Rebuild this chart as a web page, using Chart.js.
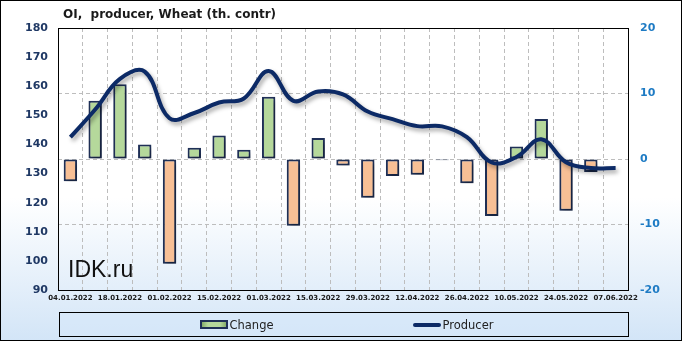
<!DOCTYPE html>
<html>
<head>
<meta charset="utf-8">
<script src="https://cdn.jsdelivr.net/npm/chart.js@4.4.1/dist/chart.umd.min.js"></script>
<style>
  html, body { margin: 0; padding: 0; }
  body { width: 682px; height: 341px; overflow: hidden; }
  #wrap { position: relative; width: 680px; height: 339px; border: 1px solid #000;
          background: linear-gradient(to bottom, #ffffff 0%, #ffffff 58%, #d3e5f7 100%); }
  #legend { position: absolute; left: 58px; top: 311px; width: 570px; height: 25px;
            box-sizing: border-box; border: 1px solid #000; background: rgba(214,232,249,0.5);
            display: flex; justify-content: center; align-items: center; gap: 139px;
            font: 11.5px "DejaVu Sans", Verdana, sans-serif; color: #222; padding-left: 5px; }
  .item { display: flex; align-items: center; }
  .swatch { width: 28px; height: 9px; margin-right: 2px; box-sizing: border-box; }
  .bar-sw { border: 2px solid #1f3057; background: linear-gradient(to right, #86ad6a, #b5d89b 25%, #b5d89b 75%, #86ad6a); }
  .line-sw { height: 4px; background: #0c2a66; border-radius: 2px; }
</style>
</head>
<body>
<div id="wrap">
  <canvas id="oiChart" width="680" height="339"></canvas>
  <div id="legend"></div>
</div>
<script>
// weekly dates
const dates = ['04.01.2022','11.01.2022','18.01.2022','25.01.2022','01.02.2022','08.02.2022',
  '15.02.2022','22.02.2022','01.03.2022','08.03.2022','15.03.2022','22.03.2022','29.03.2022',
  '05.04.2022','12.04.2022','19.04.2022','26.04.2022','03.05.2022','10.05.2022','17.05.2022',
  '24.05.2022','31.05.2022','07.06.2022'];
// weekly change (right axis)
const change = [-3.4, 8.9, 11.4, 2.2, -16.0, 1.7, 3.6, 1.4, 9.5, -10.2, 3.2, -1.0, -5.9,
  -2.6, -2.4, -0.2, -3.7, -8.7, 1.9, 6.1, -7.9, -2.0, null];
// producer open interest (left axis)
const producer = [142.5, 152.0, 162.5, 165.0, 149.0, 150.8, 154.4, 155.8, 165.2, 155.0, 158.2,
  157.2, 151.3, 148.7, 146.3, 146.2, 142.5, 133.8, 135.7, 141.8, 133.9, 131.9, 131.9];
const leftTicks = [90, 180, 10];
const rightTicks = [-20, 20, 10];

const navy = '#0c2a66';
const gridColor = '#bdbdbd';

function barFill(ctx) {
  const pos = ctx.raw >= 0;
  const c = ctx.chart;
  if (ctx.type !== 'data' || !c.chartArea) return pos ? '#a9d08e' : '#f4b183';
  const x = c.scales.x.getPixelForValue(ctx.dataIndex);
  const half = c.scales.x.width / dates.length * 0.27;
  const g = c.ctx.createLinearGradient(x - half, 0, x + half, 0);
  if (pos) {
    g.addColorStop(0, '#86ad6a'); g.addColorStop(0.2, '#b5d89b');
    g.addColorStop(0.8, '#b5d89b'); g.addColorStop(1, '#86ad6a');
  } else {
    g.addColorStop(0, '#d98e5c'); g.addColorStop(0.2, '#f7bf95');
    g.addColorStop(0.8, '#f7bf95'); g.addColorStop(1, '#d98e5c');
  }
  return g;
}

// shadow under bars and line
const shadowPlugin = {
  id: 'shadow',
  beforeDatasetDraw(chart) {
    const ctx = chart.ctx;
    ctx.save();
    ctx.shadowColor = 'rgba(0,0,0,0.35)';
    ctx.shadowBlur = 4;
    ctx.shadowOffsetX = 2;
    ctx.shadowOffsetY = 3;
  },
  afterDatasetDraw(chart) { chart.ctx.restore(); }
};

// frame, title, watermark
const decoPlugin = {
  id: 'deco',
  afterDatasetsDraw(chart) {
    const { ctx, chartArea: a } = chart;
    ctx.save();
    ctx.strokeStyle = '#000';
    ctx.lineWidth = 1;
    ctx.strokeRect(Math.round(a.left) + 0.5, Math.round(a.top) + 0.5,
      Math.round(a.right - a.left), Math.round(a.bottom - a.top));
    ctx.fillStyle = '#111';
    ctx.font = '23px "Liberation Sans", Arial, sans-serif';
    ctx.textBaseline = 'alphabetic';
    ctx.fillText('IDK.ru', a.left + 10, a.bottom - 13);
    ctx.restore();
  },
  afterDraw(chart) {
    const { ctx, chartArea: a } = chart;
    ctx.save();
    ctx.fillStyle = '#1a1a1a';
    ctx.font = 'bold 12px "DejaVu Sans", Verdana, sans-serif';
    ctx.textBaseline = 'middle';
    ctx.fillText('OI,  producer, Wheat (th. contr)', a.left + 5, 14);
    ctx.restore();
  }
};

// keep axis boxes at fixed sizes so the plot sits where the original does
const fixBox = (w, h) => scale => {
  if (w != null) scale.width = w;
  if (h != null) scale.height = h;
  scale.paddingLeft = scale.paddingRight = scale.paddingTop = scale.paddingBottom = 0;
};

const chart = new Chart(document.getElementById('oiChart'), {
  data: {
    labels: dates,
    datasets: [
      {
        type: 'line',
        label: 'Producer',
        data: producer,
        yAxisID: 'y',
        borderColor: navy,
        backgroundColor: navy,
        borderWidth: 4,
        tension: 0.4,
        pointRadius: 0,
        order: 0
      },
      {
        type: 'bar',
        label: 'Change',
        data: change,
        yAxisID: 'y2',
        backgroundColor: barFill,
        borderColor: '#1f3057',
        borderWidth: 2,
        borderSkipped: false,
        barPercentage: 0.54,
        categoryPercentage: 1,
        order: 1
      }
    ]
  },
  options: {
    responsive: false,
    animation: false,
    layout: { padding: { left: 24, right: 21, top: 27, bottom: 36 } },
    plugins: {
      title: { display: false },
      tooltip: { enabled: false },
      legend: { display: false }
    },
    scales: {
      x: {
        offset: true,
        afterFit: fixBox(null, 14),
        grid: { offset: true, drawTicks: false, color: gridColor },
        border: { display: false, dash: [4, 3] },
        ticks: {
          autoSkip: false, maxRotation: 0, padding: 4, color: '#1a1a1a',
          font: { family: '"DejaVu Sans", Verdana, sans-serif', size: 7, weight: 'bold' },
          callback: (v, i) => (i % 2 === 0 ? dates[i] : '')
        }
      },
      y: {
        position: 'left',
        min: leftTicks[0], max: leftTicks[1],
        afterFit: fixBox(33, null),
        grid: { display: false, drawTicks: false },
        border: { display: false },
        ticks: {
          stepSize: leftTicks[2], padding: 10, color: '#1f3864',
          font: { family: '"DejaVu Sans", Verdana, sans-serif', size: 11, weight: 'bold' }
        }
      },
      y2: {
        position: 'right',
        min: rightTicks[0], max: rightTicks[1],
        afterFit: fixBox(32, null),
        grid: { drawTicks: false, color: gridColor },
        border: { display: false, dash: [4, 3] },
        ticks: {
          stepSize: rightTicks[2], padding: 12, color: '#1e7bc4',
          font: { family: '"DejaVu Sans", Verdana, sans-serif', size: 11, weight: 'bold' }
        }
      }
    }
  },
  plugins: [shadowPlugin, decoPlugin]
});

// legend in the reference order: Change, Producer
const legendEl = document.getElementById('legend');
[chart.data.datasets[1], chart.data.datasets[0]].forEach(ds => {
  const item = document.createElement('div');
  item.className = 'item';
  const sw = document.createElement('span');
  sw.className = 'swatch ' + (ds.type === 'bar' ? 'bar-sw' : 'line-sw');
  const txt = document.createElement('span');
  txt.textContent = ds.label;
  item.appendChild(sw);
  item.appendChild(txt);
  legendEl.appendChild(item);
});
</script>
</body>
</html>
